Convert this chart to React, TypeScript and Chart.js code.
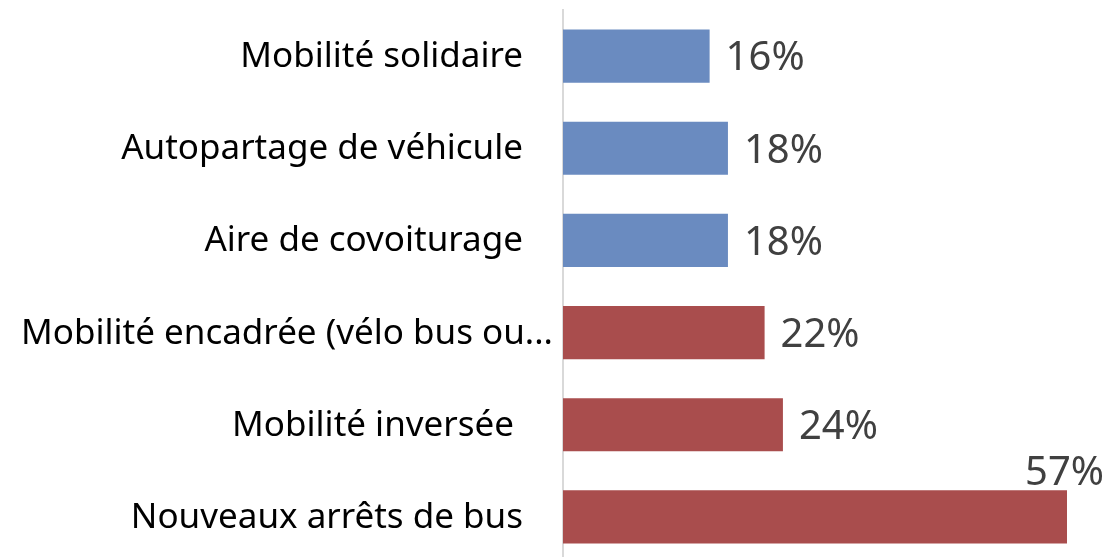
import React, { useEffect, useRef } from "react";
import { Chart, registerables } from "chart.js";

Chart.register(...registerables);

const categories = [
  "Mobilité solidaire",
  "Autopartage de véhicule",
  "Aire de covoiturage",
  "Mobilité encadrée (vélo bus ou...",
  "Mobilité inversée",
  "Nouveaux arrêts de bus",
];
const values = [16, 18, 18, 22, 24, 57];
const valueLabels = ["16%", "18%", "18%", "22%", "24%", "57%"];
const barColors = ["#6A8BC0", "#6A8BC0", "#6A8BC0", "#A94D4D", "#A94D4D", "#A94D4D"];
// distance between axis line and the right end of each category label (style)
const labelInset = [40, 40, 40, 10, 49, 40];

const FONT = "'Noto Sans', 'Open Sans', sans-serif";

const categoryLabelPlugin = {
  id: "categoryLabels",
  afterDraw(chart: any) {
    const { ctx, chartArea } = chart;
    const yScale = chart.scales.y;
    ctx.save();
    ctx.font = `35px ${FONT}`;
    ctx.fillStyle = "#000000";
    ctx.textAlign = "right";
    ctx.textBaseline = "middle";
    categories.forEach((c, i) => {
      const y = yScale.getPixelForValue(i);
      ctx.fillText(c, chartArea.left - labelInset[i], y + 1);
    });
    ctx.restore();
  },
};

const valueLabelPlugin = {
  id: "valueLabels",
  afterDatasetsDraw(chart: any) {
    const { ctx, chartArea } = chart;
    const meta = chart.getDatasetMeta(0);
    ctx.save();
    ctx.font = `40px ${FONT}`;
    ctx.fillStyle = "#404040";
    meta.data.forEach((bar: any, i: number) => {
      const text = valueLabels[i];
      const w = ctx.measureText(text).width;
      const end = Math.min(bar.x, chartArea.right);
      let x = end + 16;
      if (x + w > chart.width - 2) {
        x = chart.width - 3 - w;
        ctx.textBaseline = "alphabetic";
        ctx.fillText(text, x, bar.y - bar.height / 2 - 5);
      } else {
        ctx.textBaseline = "middle";
        ctx.fillText(text, x, bar.y + 3);
      }
    });
    ctx.restore();
  },
};

export default function App() {
  const ref = useRef<HTMLCanvasElement | null>(null);
  useEffect(() => {
    if (!ref.current) return;
    const chart = new Chart(ref.current, {
      type: "bar",
      data: {
        labels: categories,
        datasets: [
          {
            data: values,
            backgroundColor: barColors,
            barPercentage: 0.576,
            categoryPercentage: 1,
          },
        ],
      },
      options: {
        indexAxis: "y",
        animation: false,
        responsive: false,
        layout: { padding: { top: 10, right: 40, bottom: 0, left: 0 } },
        plugins: { legend: { display: false }, tooltip: { enabled: false } },
        scales: {
          x: { display: false, min: 0, max: 55 },
          y: {
            grid: { display: false, drawTicks: false },
            border: { display: true, color: "#D9D9D9", width: 2 },
            ticks: { display: false },
            afterFit: (scale: any) => {
              scale.width = 563;
            },
          },
        },
      },
      plugins: [valueLabelPlugin, categoryLabelPlugin],
    });
    return () => chart.destroy();
  }, []);
  return (
    <div style={{ position: "fixed", left: 0, top: 0, width: 1107, height: 563, background: "#fff" }}>
      <canvas ref={ref} width={1107} height={563} style={{ width: 1107, height: 563 }} />
    </div>
  );
}
